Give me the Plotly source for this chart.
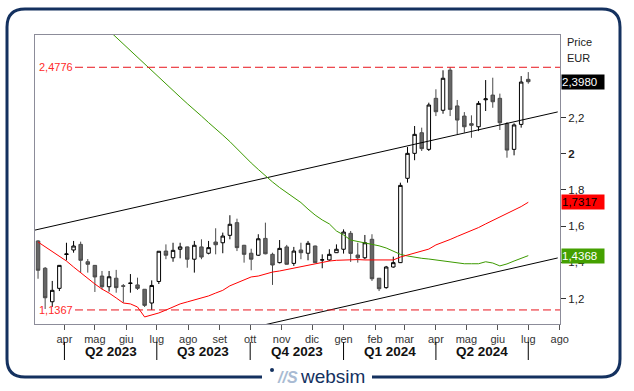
import pandas as pd
import plotly.graph_objects as go

# ---------------- data ----------------
week_start = pd.date_range("2023-03-06", periods=70, freq="7D")

open_ = [1.518, 1.367, 1.182, 1.256, 1.443, 1.468, 1.499, 1.403, 1.383, 1.324,
         1.265, 1.312, 1.270, 1.283, 1.275, 1.251, 1.175, 1.294, 1.462, 1.425,
         1.472, 1.485, 1.417, 1.485, 1.450, 1.512, 1.508, 1.549, 1.619, 1.494,
         1.450, 1.439, 1.532, 1.444, 1.398, 1.485, 1.394, 1.468, 1.450, 1.490,
         1.412, 1.413, 1.453, 1.472, 1.560, 1.440, 1.425, 1.527, 1.312, 1.260,
         1.374, 1.398, 1.864, 2.002, 2.116, 2.024, 2.306, 2.240, 2.462, 2.264,
         2.208, 2.166, 2.149, 2.298, 2.324, 2.306, 2.166, 2.024, 2.162, 2.411]
high = [1.522, 1.374, 1.297, 1.385, 1.508, 1.518, 1.514, 1.418, 1.385, 1.352,
        1.352, 1.358, 1.280, 1.335, 1.315, 1.252, 1.300, 1.462, 1.499, 1.508,
        1.508, 1.487, 1.518, 1.527, 1.518, 1.588, 1.564, 1.660, 1.641, 1.496,
        1.475, 1.555, 1.619, 1.453, 1.523, 1.496, 1.485, 1.508, 1.518, 1.492,
        1.444, 1.472, 1.499, 1.582, 1.573, 1.508, 1.551, 1.555, 1.313, 1.380,
        1.431, 1.840, 2.037, 2.153, 2.144, 2.282, 2.356, 2.461, 2.4776, 2.297,
        2.230, 2.212, 2.291, 2.407, 2.420, 2.332, 2.175, 2.168, 2.429, 2.451]
low = [1.309, 1.142, 1.153, 1.241, 1.411, 1.453, 1.343, 1.343, 1.236, 1.251,
       1.238, 1.232, 1.177, 1.232, 1.247, 1.153, 1.1367, 1.280, 1.417, 1.403,
       1.422, 1.370, 1.343, 1.417, 1.444, 1.444, 1.450, 1.527, 1.462, 1.398,
       1.356, 1.435, 1.444, 1.275, 1.394, 1.388, 1.380, 1.417, 1.411, 1.396,
       1.367, 1.407, 1.452, 1.448, 1.402, 1.398, 1.417, 1.297, 1.241, 1.254,
       1.370, 1.396, 1.840, 1.964, 2.015, 2.015, 2.208, 2.221, 2.208, 2.107,
       2.116, 2.088, 2.125, 2.236, 2.254, 2.131, 1.978, 1.991, 2.144, 2.387]
close = [1.356, 1.204, 1.245, 1.383, 1.446, 1.490, 1.411, 1.389, 1.319, 1.265,
         1.320, 1.260, 1.268, 1.285, 1.256, 1.162, 1.272, 1.461, 1.439, 1.466,
         1.485, 1.417, 1.494, 1.429, 1.481, 1.497, 1.545, 1.610, 1.481, 1.444,
         1.417, 1.530, 1.447, 1.385, 1.477, 1.389, 1.462, 1.453, 1.505, 1.398,
         1.414, 1.444, 1.472, 1.567, 1.449, 1.425, 1.508, 1.309, 1.254, 1.374,
         1.398, 1.825, 2.002, 2.107, 2.028, 2.269, 2.232, 2.417, 2.245, 2.186,
         2.149, 2.157, 2.278, 2.303, 2.287, 2.171, 2.020, 2.159, 2.396, 2.398]

ma_short = [1.512, 1.485, 1.457, 1.435, 1.407, 1.374, 1.341, 1.313, 1.280, 1.252,
            1.230, 1.203, 1.175, 1.170, 1.153, 1.098, 1.109, 1.120, 1.136, 1.153,
            1.170, 1.181, 1.192, 1.203, 1.214, 1.230, 1.245, 1.270, 1.286, 1.302,
            1.319, 1.324, 1.335, 1.346, 1.352, 1.360, 1.369, 1.377, 1.385, 1.393,
            1.402, 1.407, 1.411, 1.413, 1.415, 1.415, 1.413, 1.413, 1.411, 1.409,
            1.413, 1.429, 1.440, 1.451, 1.462, 1.473, 1.496, 1.509, 1.526, 1.543,
            1.559, 1.576, 1.592, 1.612, 1.631, 1.650, 1.670, 1.689, 1.708, 1.7317]
ma_long = [None] * 10 + [
    2.680, 2.643, 2.606, 2.567, 2.529, 2.493, 2.457, 2.421, 2.385, 2.349,
    2.313, 2.277, 2.244, 2.208, 2.172, 2.139, 2.103, 2.067, 2.026, 1.987,
    1.949, 1.913, 1.877, 1.844, 1.813, 1.786, 1.758, 1.730, 1.694, 1.661,
    1.634, 1.612, 1.573, 1.551, 1.523, 1.515, 1.509, 1.501, 1.491, 1.479,
    1.460, 1.444, 1.435, 1.427, 1.422, 1.418, 1.413, 1.407, 1.402, 1.396,
    1.392, 1.392, 1.392, 1.403, 1.396, 1.380, 1.391, 1.407, 1.424, 1.4368]

trend_dates = ["2023-03-03", "2024-07-30"]
trend_upper = [1.578, 2.231]
trend_lower = [0.765, 1.424]

level_high = 2.4776
level_low = 1.1367
level_high_label = "2,4776"
level_low_label = "1,1367"

last_close_label = "2,3980"
ma_short_label = "1,7317"
ma_long_label = "1,4368"

month_ticks = pd.date_range("2023-04-01", "2024-08-01", freq="MS")
month_labels = ["apr", "mag", "giu", "lug", "ago", "set", "ott", "nov", "dic",
                "gen", "feb", "mar", "apr", "mag", "giu", "lug", "ago"]
quarter_starts = ["2023-04-01", "2023-07-01", "2023-10-01", "2024-01-01",
                  "2024-04-01", "2024-07-01"]
quarter_labels = ["Q2 2023", "Q3 2023", "Q4 2023", "Q1 2024", "Q2 2024"]

y_ticks = [1.2, 1.4, 1.6, 1.8, 2.0, 2.2]
y_tick_text = ["1,2", "1,4", "1,6", "1,8", "<b>2</b>", "2,2"]

# ---------------- figure ----------------
FONT = "Liberation Sans, Arial, sans-serif"
W, H = 634, 391
ML, MR, MT, MB = 35, 74, 35, 67
PW, PH = W - ML - MR, H - MT - MB


def px_x(px):
    return (px - ML) / PW


def px_y(py):
    return (H - MB - py) / PH


fig = go.Figure()

fig.add_trace(go.Scatter(x=trend_dates, y=trend_upper, mode="lines",
                         line=dict(color="black", width=1), hoverinfo="skip"))
fig.add_trace(go.Scatter(x=trend_dates, y=trend_lower, mode="lines",
                         line=dict(color="black", width=1), hoverinfo="skip"))
fig.add_trace(go.Scatter(x=week_start, y=ma_long, mode="lines",
                         line=dict(color="#3c9a00", width=1), hoverinfo="skip"))
fig.add_trace(go.Scatter(x=week_start, y=ma_short, mode="lines",
                         line=dict(color="#ff0000", width=1), hoverinfo="skip"))

fig.add_trace(go.Candlestick(
    x=week_start, open=open_, high=high, low=low, close=close,
    increasing=dict(fillcolor="white", line=dict(color="black", width=1)),
    decreasing=dict(fillcolor="#666666", line=dict(color="#4a4a4a", width=1)),
    whiskerwidth=0,
))

shapes = []
annotations = []

# dashed levels
for lvl, lab in [(level_high, level_high_label), (level_low, level_low_label)]:
    shapes.append(dict(type="line", xref="paper", yref="y", x0=px_x(75), x1=1,
                       y0=lvl, y1=lvl,
                       line=dict(color="#e8141c", width=1, dash="8px,4px")))
    annotations.append(dict(xref="paper", yref="y", x=0, y=lvl, xshift=2,
                            xanchor="left", yanchor="middle", text=lab,
                            showarrow=False,
                            font=dict(family=FONT, size=11, color="#ff2a2a")))

# value boxes on the right
for val, lab, bg, fg in [(close[-1], last_close_label, "black", "white"),
                         (ma_short[-1], ma_short_label, "#ff0000", "black"),
                         (ma_long[-1], ma_long_label, "#44a000", "white")]:
    annotations.append(dict(xref="paper", yref="y", x=1, y=val, xshift=1,
                            xanchor="left", yanchor="middle", text=lab,
                            showarrow=False, bgcolor=bg, width=42, height=14,
                            align="left", borderpad=0,
                            font=dict(family=FONT, size=11.5, color=fg)))

# Price / EUR
annotations.append(dict(xref="paper", yref="paper", x=1, y=px_y(42), xshift=5,
                        xanchor="left", yanchor="middle", text="Price",
                        showarrow=False,
                        font=dict(family=FONT, size=11, color="#222")))
annotations.append(dict(xref="paper", yref="paper", x=1, y=px_y(58), xshift=5,
                        xanchor="left", yanchor="middle", text="EUR",
                        showarrow=False,
                        font=dict(family=FONT, size=11, color="#222")))

# quarter separators + labels
for q in quarter_starts:
    shapes.append(dict(type="line", xref="x", yref="paper", x0=q, x1=q,
                       y0=px_y(342), y1=px_y(360),
                       line=dict(color="black", width=1)))
for i, lab in enumerate(quarter_labels):
    a = pd.Timestamp(quarter_starts[i])
    b = pd.Timestamp(quarter_starts[i + 1])
    mid = a + (b - a) / 2
    annotations.append(dict(xref="x", yref="paper", x=mid, y=px_y(351),
                            xanchor="center", yanchor="middle", text=f"<b>{lab}</b>",
                            showarrow=False,
                            font=dict(family=FONT, size=13.5, color="#111")))

# outer rounded frame (gap for logo)
L, R, T, B = px_x(7), px_x(620), px_y(9), px_y(377)
rx, ry = 18 / PW, 18 / PH
gl, gr = px_x(262), px_x(372)
path = (f"M {gr},{B} L {R-rx},{B} Q {R},{B} {R},{B+ry} L {R},{T-ry} "
        f"Q {R},{T} {R-rx},{T} L {L+rx},{T} Q {L},{T} {L},{T-ry} "
        f"L {L},{B+ry} Q {L},{B} {L+rx},{B} L {gl},{B}")
shapes.append(dict(type="path", xref="paper", yref="paper", path=path,
                   line=dict(color="#14315f", width=3)))

# logo
shapes.append(dict(type="circle", xref="paper", yref="paper",
                   x0=px_x(270), x1=px_x(274), y0=px_y(368), y1=px_y(372),
                   fillcolor="#14315f", line=dict(width=0)))
annotations.append(dict(xref="paper", yref="paper", x=px_x(287), y=px_y(377),
                        xanchor="center", yanchor="middle",
                        text="<b><i>//S</i></b>", showarrow=False,
                        font=dict(family=FONT, size=16, color="#a9bbd3")))
annotations.append(dict(xref="paper", yref="paper", x=px_x(332), y=px_y(376),
                        xanchor="center", yanchor="middle", text="websim",
                        showarrow=False,
                        font=dict(family=FONT, size=19, color="#14315f")))

fig.update_layout(
    width=W, height=H,
    margin=dict(l=ML, r=MR, t=MT, b=MB),
    paper_bgcolor="white", plot_bgcolor="white",
    showlegend=False,
    separators=",.",
    font=dict(family=FONT, size=11, color="#222"),
    shapes=shapes, annotations=annotations,
    hovermode=False,
)
fig.update_xaxes(
    type="date", range=["2023-03-03", "2024-08-01 06:00"],
    rangeslider=dict(visible=False),
    showgrid=False, zeroline=False,
    showline=True, mirror=True, linecolor="#8c8c99", linewidth=1,
    tickvals=month_ticks, ticktext=month_labels,
    ticks="outside", ticklen=5, tickcolor="#555",
    tickfont=dict(family=FONT, size=11, color="#333"),
)
fig.update_yaxes(
    side="right", range=[1.059, 2.656],
    showgrid=False, zeroline=False,
    showline=True, mirror=True, linecolor="#8c8c99", linewidth=1,
    tickvals=y_ticks, ticktext=y_tick_text,
    ticks="outside", ticklen=5, tickcolor="#333",
    tickfont=dict(family=FONT, size=11.5, color="#222"),
)

fig.write_html(
    "out.html",
    config={"displayModeBar": False},
    post_script="document.body.style.margin='0';document.body.style.overflow='hidden';",
)
